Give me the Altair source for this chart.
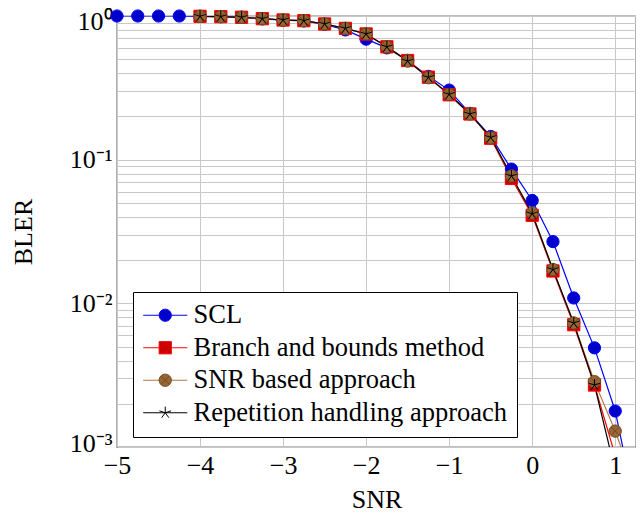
import altair as alt
import pandas as pd

# ---------------- data ----------------
series_names = ["SCL", "Branch and bounds method", "SNR based approach",
                "Repetition handling approach"]

snr_scl = [-5, -4.75, -4.5, -4.25, -4, -3.75, -3.5, -3.25, -3, -2.75, -2.5,
           -2.25, -2, -1.75, -1.5, -1.25, -1, -0.75, -0.5, -0.25, 0, 0.25,
           0.5, 0.75, 1, 1.25]
bler_scl = [1.0, 1.0, 1.0, 1.0, 0.995, 0.99, 0.98, 0.955, 0.935, 0.925, 0.875,
            0.80, 0.69, 0.60, 0.49, 0.38, 0.305, 0.21, 0.145, 0.086, 0.052,
            0.0269, 0.0109, 0.0049, 0.00178, 0.00036]

snr_bb = [-4, -3.75, -3.5, -3.25, -3, -2.75, -2.5, -2.25, -2, -1.75, -1.5,
          -1.25, -1, -0.75, -0.5, -0.25, 0, 0.25, 0.5, 0.75, 1]
bler_bb = [0.995, 0.99, 0.98, 0.958, 0.938, 0.928, 0.88, 0.82, 0.75, 0.61,
           0.49, 0.375, 0.283, 0.208, 0.141, 0.074, 0.041, 0.0168, 0.0071,
           0.0027, 0.00087]

snr_snr = [-4, -3.75, -3.5, -3.25, -3, -2.75, -2.5, -2.25, -2, -1.75, -1.5,
           -1.25, -1, -0.75, -0.5, -0.25, 0, 0.25, 0.5, 0.75, 1, 1.25]
bler_snr = [0.995, 0.99, 0.979, 0.958, 0.938, 0.928, 0.88, 0.82, 0.75, 0.61,
            0.486, 0.372, 0.285, 0.208, 0.142, 0.077, 0.0425, 0.0172, 0.0073,
            0.00285, 0.00129, 0.00051]

snr_rep = [-4, -3.75, -3.5, -3.25, -3, -2.75, -2.5, -2.25, -2, -1.75, -1.5,
           -1.25, -1, -0.75, -0.5, -0.25, 0, 0.25, 0.5, 0.75, 1]
bler_rep = [0.995, 0.99, 0.979, 0.958, 0.938, 0.928, 0.88, 0.82, 0.75, 0.61,
            0.486, 0.374, 0.285, 0.208, 0.143, 0.077, 0.042, 0.0172, 0.0073,
            0.0027, 0.00068]

x_ticks = [-5, -4, -3, -2, -1, 0, 1]
y_grid = [0.001, 0.002, 0.003, 0.004, 0.005, 0.006, 0.007, 0.008, 0.009,
          0.01, 0.02, 0.03, 0.04, 0.05, 0.06, 0.07, 0.08, 0.09,
          0.1, 0.2, 0.3, 0.4, 0.5, 0.6, 0.7, 0.8, 0.9, 1]

# ---------------- styles ----------------
line_colors = ["#0000ff", "#ff0000", "#b07845", "#000000"]
mark_fills = ["#0000cc", "#cc0000", "#996633", "transparent"]
mark_strokes = ["#0000ff", "#ff0000", "#6e4a26", "#000000"]
OTIMES = ("M1,0A1,1,0,1,1,-1,0A1,1,0,1,1,1,0Z"
          "M-0.707,-0.707L0.707,0.707M-0.707,0.707L0.707,-0.707")
STAR = ("M0,0V-1M0,0L0.951,-0.309M0,0L0.588,0.809M0,0L-0.588,0.809"
        "M0,0L-0.951,-0.309")
mark_shapes = ["circle", "square", OTIMES, STAR]
LEG_LINE = "M-3.6,0H3.6"

rows = []
for k, (xs, ys) in enumerate([(snr_scl, bler_scl), (snr_bb, bler_bb),
                              (snr_snr, bler_snr), (snr_rep, bler_rep)]):
    for xv, yv in zip(xs, ys):
        rows.append({"series": series_names[k], "k": k, "snr": xv, "bler": yv})
df = pd.DataFrame(rows)

FONT = "Liberation Serif"

x_enc = alt.X("snr:Q",
              scale=alt.Scale(domain=[-5, 1.25], nice=False, zero=False),
              axis=alt.Axis(values=x_ticks, format="d", title="SNR",
                            ticks=False, domain=False, grid=True,
                            gridColor="#c8c8c8", gridWidth=1,
                            labelFont=FONT, labelFontSize=26,
                            labelColor="black", labelPadding=5,
                            labelFlush=False,
                            titleFont=FONT, titleFontSize=26,
                            titleFontWeight="normal", titleColor="black",
                            titleBaseline="alphabetic", titleY=60))
y_enc = alt.Y("bler:Q",
              scale=alt.Scale(type="log", domain=[0.001, 1], nice=False),
              axis=alt.Axis(values=y_grid,
                            labelExpr="datum.value == 1 ? '10⁰' : datum.value == 0.1 ? '10⁻¹' : datum.value == 0.01 ? '10⁻²' : datum.value == 0.001 ? '10⁻³' : ''",
                            labelOffset={"condition": [
                                {"test": "datum.value == 1", "value": 5},
                                {"test": "datum.value == 0.001", "value": -4}],
                                "value": 0},
                            title="BLER", ticks=False, domain=False,
                            grid=True, gridColor="#c8c8c8", gridWidth=1,
                            labelFont=FONT, labelFontSize=26,
                            labelColor="black", labelPadding=5,
                            labelFlush=False, labelOverlap=False,
                            titleFont=FONT, titleFontSize=26,
                            titleFontWeight="normal", titleColor="black",
                            titleBaseline="alphabetic", titleX=-86))

common = dict(title=None, orient="none", legendX=16, legendY=276,
              labelFont=FONT, labelFontSize=26.5, symbolSize=150,
              symbolOffset=9, labelOffset=15, rowPadding=5.5, padding=10,
              labelLimit=0)
legend_lines = alt.Legend(**common, labelColor="black", symbolType=LEG_LINE,
                          symbolStrokeWidth=1.2, strokeColor="black",
                          fillColor="white", cornerRadius=0, zindex=0)
legend_marks = alt.Legend(**common, labelColor="black", labelOpacity=0,
                          symbolStrokeWidth=1, zindex=1)

base = alt.Chart(df)
lines = base.mark_line(clip=True, strokeWidth=1.2).encode(
    x=x_enc, y=y_enc,
    color=alt.Color("series:N", scale=alt.Scale(domain=series_names,
                                                 range=line_colors),
                    legend=legend_lines),
    order="snr:Q",
)
points = base.transform_filter("datum.bler >= 0.001").mark_point(
    size=150, opacity=1, fillOpacity=1, strokeWidth=1
).encode(
    x=x_enc, y=y_enc,
    shape=alt.Shape("series:N", scale=alt.Scale(domain=series_names,
                                                 range=mark_shapes),
                    legend=legend_marks),
    fill=alt.Fill("series:N", scale=alt.Scale(domain=series_names,
                                               range=mark_fills),
                  legend=legend_marks),
    stroke=alt.Stroke("series:N", scale=alt.Scale(domain=series_names,
                                                   range=mark_strokes),
                      legend=legend_marks),
)

chart = alt.layer(lines, points).resolve_legend(
    color="independent"
).properties(
    width=519, height=431,
    padding={"left": 109, "top": 8, "right": 0, "bottom": 66},
    autosize=alt.AutoSizeParams(type="none"),
).configure_view(stroke="black", strokeWidth=1.2)

chart.save("out.html", embed_options={"renderer": "svg", "actions": False})
